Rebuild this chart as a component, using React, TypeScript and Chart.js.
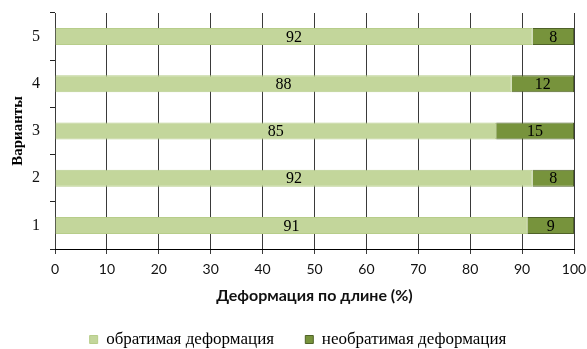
import React, { useEffect, useRef } from 'react';
import { Chart, registerables } from 'chart.js';

Chart.register(...registerables);

const categories = ['1', '2', '3', '4', '5'];
const reversible = [91, 92, 85, 88, 92];
const irreversible = [9, 8, 15, 12, 8];
const seriesNames = ['обратимая деформация', 'необратимая деформация'];
const xTitle = 'Деформация по длине (%)';
const yTitle = 'Варианты';
const xMin = 0;
const xMax = 100;
const xStep = 10;

const SERIF = '"Liberation Serif", "Times New Roman", serif';
const SANS = 'Lato, "Open Sans", sans-serif';

const valueLabels = {
  id: 'valueLabels',
  afterDatasetsDraw(chart: any) {
    const ctx = chart.ctx;
    ctx.save();
    ctx.font = `16px ${SERIF}`;
    ctx.fillStyle = '#000';
    ctx.textAlign = 'center';
    ctx.textBaseline = 'middle';
    chart.data.datasets.forEach((ds: any, i: number) => {
      const meta = chart.getDatasetMeta(i);
      meta.data.forEach((bar: any, j: number) => {
        const p = bar.getProps(['x', 'y', 'base'], true);
        ctx.fillText(String(ds.data[j]), (p.x + p.base) / 2, p.y + 1);
      });
    });
    ctx.restore();
  },
};

// makes sure the value-axis grid lines are painted across the plot area
const valueGrid = {
  id: 'valueGrid',
  beforeDatasetsDraw(chart: any) {
    const { ctx, chartArea } = chart;
    const scale = chart.scales.x;
    ctx.save();
    ctx.strokeStyle = '#3a3a3a';
    ctx.lineWidth = 1;
    scale.ticks.forEach((t: any) => {
      const px = Math.round(scale.getPixelForValue(t.value) - 0.5) + 0.5;
      ctx.beginPath();
      ctx.moveTo(px, chartArea.top);
      ctx.lineTo(px, chartArea.bottom);
      ctx.stroke();
    });
    ctx.restore();
  },
};

// nudges the legend block slightly to the right, as in the reference
const legendShift = {
  id: 'legendShift',
  beforeDraw(chart: any) {
    const lg = chart.legend;
    if (lg && !lg._shifted) {
      lg.left += 11;
      lg.right += 11;
      lg._shifted = true;
    }
  },
};

export default function App() {
  const ref = useRef<HTMLCanvasElement | null>(null);

  useEffect(() => {
    document.documentElement.style.overflow = 'hidden';
    document.body.style.margin = '0';
    document.body.style.overflow = 'hidden';
    const canvas = ref.current;
    if (!canvas) return;
    const nb = '\u00a0';
    const chart = new Chart(canvas, {
      type: 'bar',
      data: {
        labels: categories,
        datasets: [
          {
            label: seriesNames[0],
            data: reversible,
            backgroundColor: '#c3d69b',
            borderColor: '#b7cd8a',
            borderWidth: 1,
            barPercentage: 0.36,
            categoryPercentage: 1,
          },
          {
            label: seriesNames[1],
            data: irreversible,
            backgroundColor: '#77933c',
            borderColor: '#4f6228',
            borderWidth: 1,
            barPercentage: 0.36,
            categoryPercentage: 1,
          },
        ],
      },
      options: {
        indexAxis: 'y',
        responsive: false,
        animation: false,
        devicePixelRatio: 1,
        layout: { padding: { top: 13, right: 13, left: 0, bottom: -9 } },
        scales: {
          x: {
            stacked: true,
            min: xMin,
            max: xMax,
            ticks: {
              stepSize: xStep,
              color: '#111',
              font: { family: SANS, size: 14 },
              padding: 7,
              maxRotation: 0,
            },
            grid: {
              display: true,
              drawOnChartArea: true,
              color: '#3a3a3a',
              lineWidth: 1,
              tickLength: 5,
              drawTicks: true,
            },
            border: { display: true, color: '#000', width: 1 },
            title: {
              display: true,
              text: xTitle,
              color: '#111',
              font: { family: SANS, size: 16, weight: 'bold' },
              padding: { top: 0, bottom: 16 },
            },
            afterFit(scale: any) {
              scale.height = 72;
              scale.paddingLeft = 0;
              scale.paddingRight = 0;
            },
          },
          y: {
            stacked: true,
            reverse: true,
            ticks: {
              color: '#111',
              font: { family: SERIF, size: 16 },
              padding: 10,
            },
            grid: {
              offset: true,
              drawOnChartArea: false,
              drawTicks: true,
              tickLength: 5,
              color: '#222',
            },
            border: { display: true, color: '#000', width: 1 },
            title: {
              display: true,
              text: yTitle,
              color: '#000',
              font: { family: SERIF, size: 15, weight: 'bold' },
              padding: { top: 9, bottom: 0 },
            },
            afterFit(scale: any) {
              scale.width = 55;
              scale.paddingTop = 0;
              scale.paddingBottom = 0;
            },
          },
        },
        plugins: {
          legend: {
            display: true,
            position: 'bottom',
            labels: {
              boxWidth: 8,
              boxHeight: 8,
              padding: 10,
              color: '#000',
              font: { family: SERIF, size: 17 },
              generateLabels(chart: any) {
                const items = Chart.defaults.plugins.legend.labels.generateLabels(chart);
                return items.map((it: any, i: number) =>
                  (i === 0 ? { ...it, text: it.text + nb.repeat(5) } : it)
                );
              },
            },
          },
          tooltip: { enabled: false },
        },
      },
      plugins: [valueGrid, valueLabels, legendShift],
    });
    return () => chart.destroy();
  }, []);

  return (
    <div style={{ width: 587, height: 349, overflow: 'hidden' }}>
      <canvas ref={ref} width={587} height={349} style={{ display: 'block' }} />
    </div>
  );
}
